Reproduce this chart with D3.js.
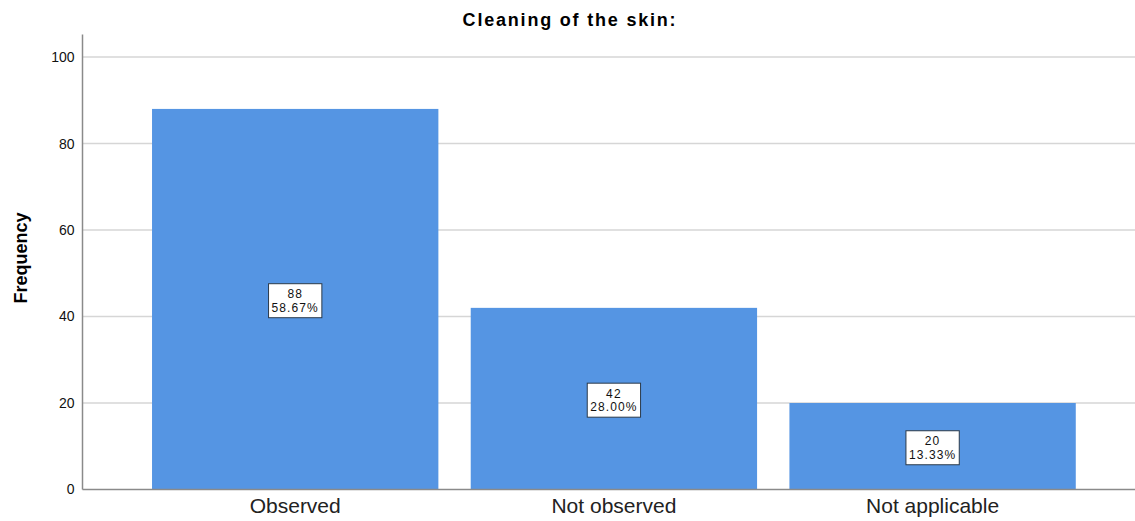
<!doctype html>
<html>
<head>
<meta charset="utf-8">
<title>Cleaning of the skin</title>
<style>
  body { margin:0; background:#fff; }
  svg { display:block; font-family:"Liberation Sans", Arial, sans-serif; }
  .grid line { stroke:#d6d6d6; stroke-width:1.5px; }
  .axis path, .axis line { stroke:#8a8a8a; stroke-width:1.5px; }
  .bar { fill:#5595e3; }
  .lab rect { fill:#fff; stroke:#2b3a4a; stroke-width:1px; }
  .lab text { font-size:12px; fill:#111; letter-spacing:1.1px; }
</style>
<script src="https://cdn.jsdelivr.net/npm/d3@7"></script>
</head>
<body>
<svg id="chart" width="1135" height="521"></svg>
<script>
// data
var categories = ["Observed", "Not observed", "Not applicable"]
var counts = [88, 42, 20]
var percents = ["58.67%", "28.00%", "13.33%"]
var yTicks = [0, 20, 40, 60, 80, 100]

var svg = d3.select("#chart")
var plotLeft = 82.5, plotRight = 1135, plotTop = 35.4, plotBottom = 489.5

var x = d3.scaleBand().domain(categories).range([plotLeft, plotRight])
  .paddingInner(0.1015).paddingOuter(0.202).align(0.54)
var y = d3.scaleLinear().domain([0, 105]).range([plotBottom, plotTop])

// gridlines
svg.append("g").attr("class", "grid")
  .selectAll("line").data(yTicks.filter(function(d) { return d > 0 }))
  .enter().append("line")
  .attr("x1", plotLeft).attr("x2", plotRight)
  .attr("y1", function(d) { return y(d) }).attr("y2", function(d) { return y(d) })

// bars
svg.selectAll(".bar").data(counts).enter().append("rect")
  .attr("class", "bar")
  .attr("x", function(d, i) { return x(categories[i]) })
  .attr("width", x.bandwidth())
  .attr("y", function(d) { return y(d) })
  .attr("height", function(d) { return y(0) - y(d) })

// axes
var yAxis = svg.append("g").attr("class", "axis")
  .attr("transform", "translate(" + plotLeft + ",0)")
  .call(d3.axisLeft(y).tickValues(yTicks).tickSize(0).tickPadding(8))
yAxis.select(".domain").attr("d", "M0," + (plotTop - 1) + "V" + plotBottom)
yAxis.selectAll("text").style("font-size", "14px").style("fill", "#111")

var xAxis = svg.append("g").attr("class", "axis")
  .attr("transform", "translate(0," + plotBottom + ")")
  .call(d3.axisBottom(x).tickSize(0).tickPadding(9))
xAxis.select(".domain").attr("d", "M" + plotLeft + ",0H" + plotRight)
xAxis.selectAll("text").style("font-size", "21px").style("fill", "#222")

// value labels: count over percent inside a boxed label
var labs = svg.selectAll(".lab").data(counts).enter().append("g")
  .attr("class", "lab")
  .attr("transform", function(d, i) {
    return "translate(" + (x(categories[i]) + x.bandwidth() / 2) + "," + ((y(d) + y(0)) / 2 + 1.5) + ")"
  })
var rects = labs.append("rect")
var txt = labs.append("text").attr("text-anchor", "middle")
txt.append("tspan").attr("x", 0).attr("y", -2.5).text(function(d) { return d })
txt.append("tspan").attr("x", 0).attr("y", 11).text(function(d, i) { return percents[i] })
rects.each(function() {
  var g = d3.select(this.parentNode)
  var w = 0
  g.selectAll("tspan").each(function() { w = Math.max(w, this.getComputedTextLength()) })
  w = w + 6
  d3.select(this).attr("x", -w / 2).attr("width", w).attr("y", -17).attr("height", 34)
})

// title and y label
svg.append("text").attr("x", 570).attr("y", 26).attr("text-anchor", "middle")
  .style("font-size", "18px").style("font-weight", "bold").style("letter-spacing", "1.8px")
  .text("Cleaning of the skin:")
svg.append("text").attr("transform", "translate(27,258) rotate(-90)").attr("text-anchor", "middle")
  .style("font-size", "18px").style("font-weight", "bold")
  .text("Frequency")
</script>
</body>
</html>
